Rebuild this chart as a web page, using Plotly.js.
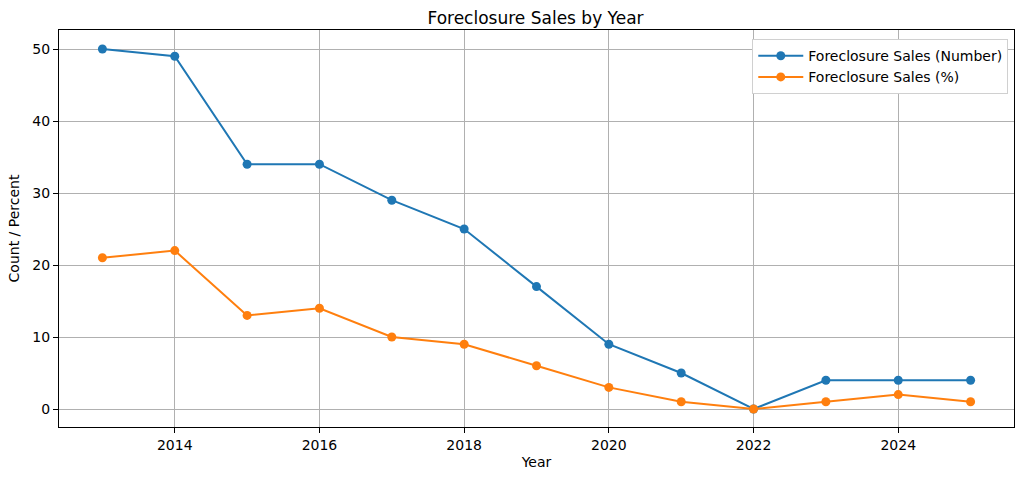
<!DOCTYPE html>
<html><head><meta charset="utf-8">
<script src="https://cdn.plot.ly/plotly-3.0.1.min.js"></script>
<style>html,body{margin:0;padding:0;background:#fff}#chart{width:1024px;height:482px}</style>
</head><body><div id="chart"></div>
<script>
const years = [2013,2014,2015,2016,2017,2018,2019,2020,2021,2022,2023,2024,2025];
const salesNumber = [50,49,34,34,29,25,17,9,5,0,4,4,4];
const salesPercent = [21,22,13,14,10,9,6,3,1,0,1,2,1];
const xTicks = [2014,2016,2018,2020,2022,2024];
const yTicks = [0,10,20,30,40,50];

const font = {family:"DejaVu Sans", size:14, color:"#000"};
const traces = [
  {x:years, y:salesNumber, name:"Foreclosure Sales (Number)", mode:"lines+markers",
   line:{color:"#1f77b4", width:2}, marker:{color:"#1f77b4", size:9}},
  {x:years, y:salesPercent, name:"Foreclosure Sales (%)", mode:"lines+markers",
   line:{color:"#ff7f0e", width:2}, marker:{color:"#ff7f0e", size:9}}
];
const axisCommon = {showline:true, linecolor:"#000", linewidth:1, mirror:true,
  ticks:"outside", ticklen:5, tickcolor:"#000", showgrid:true, gridcolor:"#b0b0b0", gridwidth:1,
  zeroline:false, tickfont:font};
const layout = {
  width:1024, height:482, paper_bgcolor:"#fff", plot_bgcolor:"#fff",
  margin:{l:59, r:10, t:30, b:55},
  font:font,
  title:{text:"Foreclosure Sales by Year", font:{family:"DejaVu Sans", size:17, color:"#000"}, x:0.523, xanchor:"center", y:0.975, yanchor:"top"},
  xaxis:Object.assign({}, axisCommon, {range:[2012.4, 2025.6], tickvals:xTicks, ticktext:xTicks.map(String),
    title:{text:"Year", font:font, standoff:5}}),
  yaxis:Object.assign({}, axisCommon, {range:[-2.5, 52.64], tickvals:yTicks, ticktext:yTicks.map(String),
    title:{text:"Count / Percent", font:font, standoff:9}}),
  legend:{x:0.994, xanchor:"right", y:0.977, yanchor:"top", bgcolor:"#fff", bordercolor:"#d0d0d0", borderwidth:1,
    font:font, itemwidth:45, tracegroupgap:0},
  showlegend:true
};
Plotly.newPlot("chart", traces, layout, {staticPlot:true, displayModeBar:false});
</script></body></html>
